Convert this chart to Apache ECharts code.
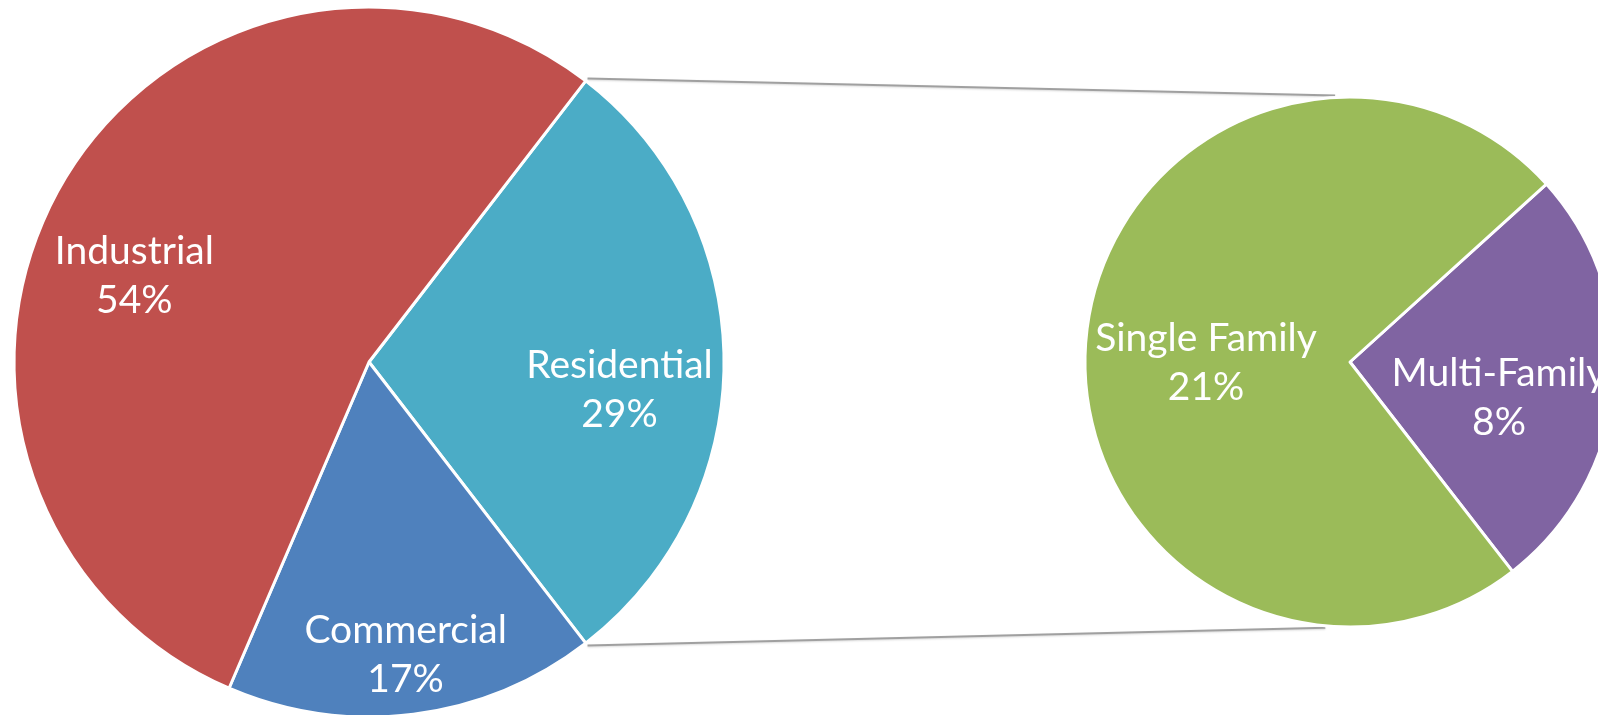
<!DOCTYPE html>
<html>
<head>
<meta charset="utf-8">
<script src="https://cdn.jsdelivr.net/npm/echarts@6/dist/echarts.min.js"></script>
<style>
html,body{margin:0;padding:0;background:#fff;}
#c{width:1598px;height:715px;}
</style>
</head>
<body>
<div id="c"></div>
<script>
// ---- data ----
var mainCategories = ['Residential', 'Commercial', 'Industrial'];
var mainValues = [29.1, 16.9, 54];
var mainColors = ['#4BACC6', '#4F81BD', '#C0504D'];

var subCategories = ['Multi-Family', 'Single Family'];
var subValues = [7.6, 21.4];
var subColors = ['#8064A2', '#9BBB59'];

// ---- layout ----
var C1 = [369, 362], R1 = 355;
var C2 = [1350, 362], R2 = 265;
var mainTotal = mainValues.reduce(function(a,b){return a+b;},0);
var subTotal = subValues.reduce(function(a,b){return a+b;},0);
// the split-off slice (first) is centred on the right side
var mainStart = mainValues[0] / mainTotal * 180;       // degrees ccw from 3 o'clock
var subStart = subValues[0] / subTotal * 180 - 5;

// label offsets from default inside position
var mainLabelOffsets = [[70, 28], [14, 114], [-79, 5]];
var subLabelOffsets = [[14, 24], [-9, 13]];

function pt(c, r, deg){
  var a = deg * Math.PI / 180;
  return [c[0] + r * Math.cos(a), c[1] - r * Math.sin(a)];
}
var topStart = pt(C1, R1 + 3, mainStart);
var botStart = pt(C1, R1 + 3, -mainStart);
var topEnd = pt(C2, R2 + 2, 93.2);
var botEnd = pt(C2, R2 + 2, 264.7);

function mk(names, vals, cols){
  return names.map(function(n, i){
    return {name: n, value: vals[i], itemStyle: {color: cols[i]}};
  });
}

var labelStyle = {
  show: true,
  position: 'inside',
  formatter: function(p){ return p.name + '\n' + Math.round(p.value) + '%'; },
  color: '#ffffff',
  fontFamily: 'Lato',
  fontSize: 39,
  lineHeight: 49,
  align: 'center'
};

var chart = echarts.init(document.getElementById('c'), null, {renderer: 'canvas'});
chart.setOption({
  backgroundColor: '#ffffff',
  animation: false,
  graphic: [
    {type: 'line', z: 1, shape: {x1: topStart[0], y1: topStart[1], x2: topEnd[0], y2: topEnd[1]},
     style: {stroke: '#a0a0a0', lineWidth: 2, shadowColor: 'rgba(0,0,0,0.15)', shadowBlur: 2, shadowOffsetY: 1}},
    {type: 'line', z: 1, shape: {x1: botStart[0], y1: botStart[1], x2: botEnd[0], y2: botEnd[1]},
     style: {stroke: '#a0a0a0', lineWidth: 2, shadowColor: 'rgba(0,0,0,0.15)', shadowBlur: 2, shadowOffsetY: 1}}
  ],
  series: [
    {
      type: 'pie',
      center: C1,
      radius: [0, R1],
      startAngle: mainStart,
      clockwise: true,
      avoidLabelOverlap: false,
      itemStyle: {borderColor: '#ffffff', borderWidth: 3},
      label: labelStyle,
      labelLine: {show: false},
      labelLayout: function(p){
        var o = mainLabelOffsets[p.dataIndex];
        return {dx: o[0], dy: o[1]};
      },
      emphasis: {disabled: true},
      data: mk(mainCategories, mainValues, mainColors)
    },
    {
      type: 'pie',
      center: C2,
      radius: [0, R2],
      startAngle: subStart,
      clockwise: true,
      avoidLabelOverlap: false,
      itemStyle: {borderColor: '#ffffff', borderWidth: 3},
      label: labelStyle,
      labelLine: {show: false},
      labelLayout: function(p){
        var o = subLabelOffsets[p.dataIndex];
        return {dx: o[0], dy: o[1]};
      },
      emphasis: {disabled: true},
      data: mk(subCategories, subValues, subColors)
    }
  ]
});
</script>
</body>
</html>
